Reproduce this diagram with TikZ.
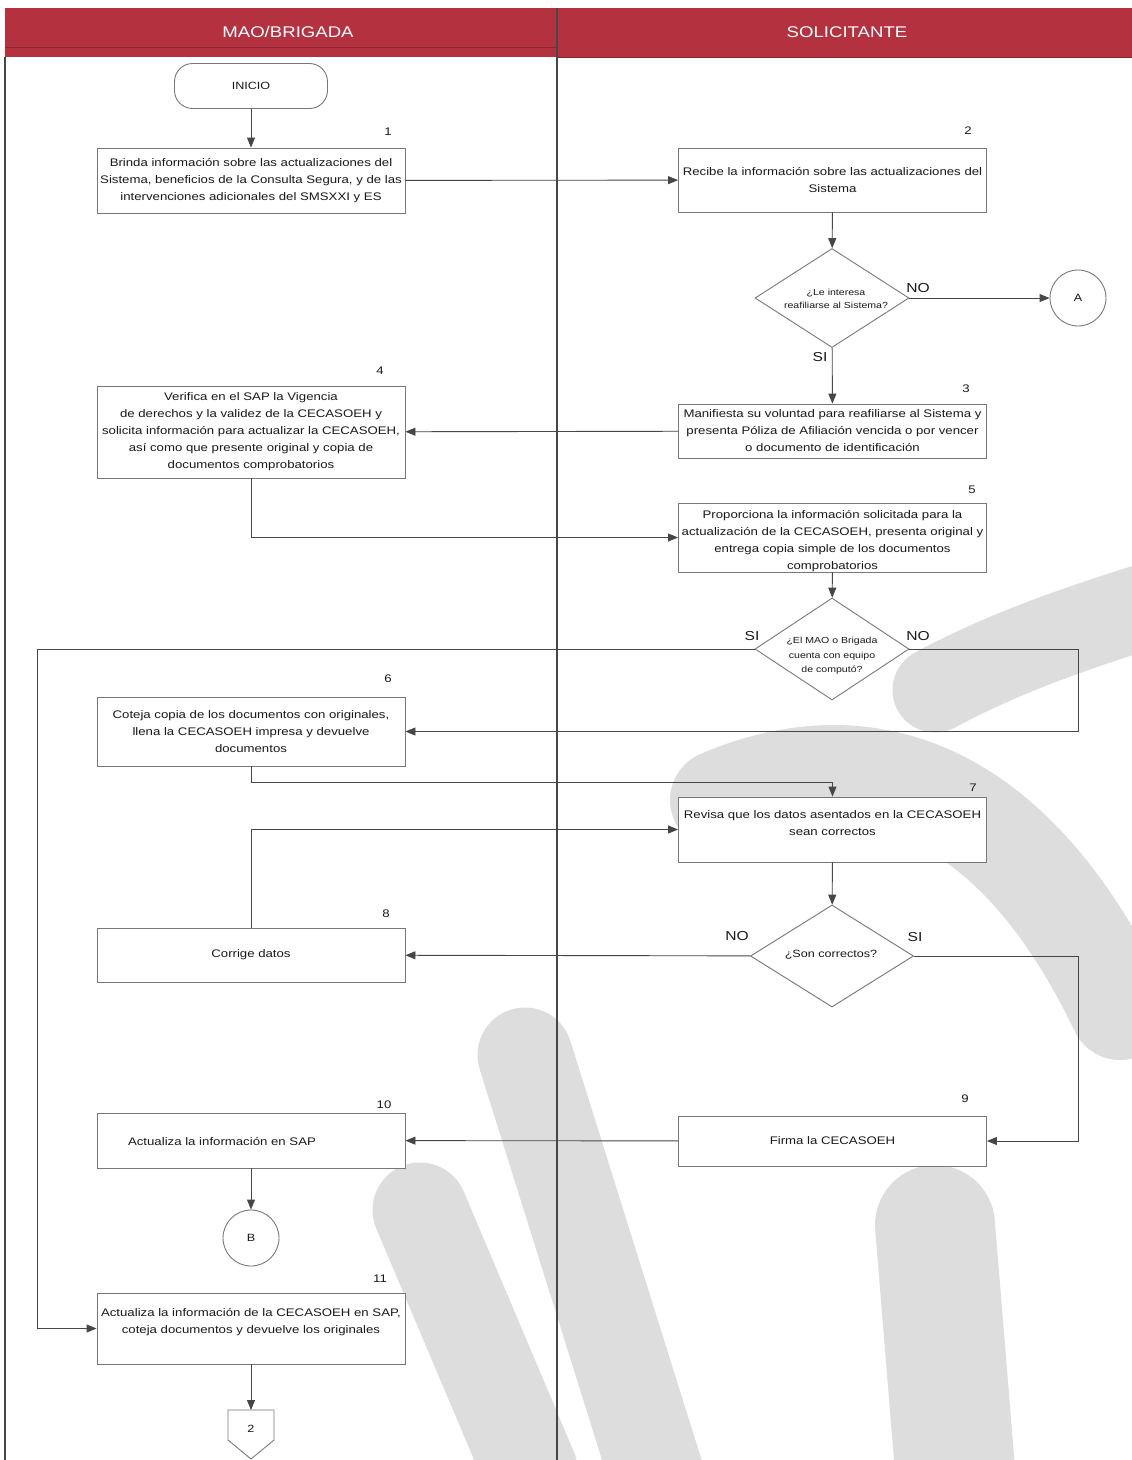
\documentclass[tikz,border=0pt]{standalone}
\usepackage{fontspec}
\setmainfont{Liberation Sans}[FakeStretch=1.2]
\usetikzlibrary{shapes.geometric,arrows.meta}
\definecolor{hdr}{RGB}{180,50,64}
\definecolor{hdrdark}{RGB}{140,35,45}
\definecolor{ln}{RGB}{70,70,70}
\definecolor{bx}{RGB}{120,120,120}
\definecolor{wm}{RGB}{221,221,221}
\definecolor{txt}{RGB}{25,25,25}

\begin{document}
\begin{tikzpicture}[x=1pt,y=-1pt,
  box/.style={draw=bx, fill=white, line width=0.9pt, minimum width=308pt,
    align=center, text=txt, font=\fontsize{11}{17}\selectfont, inner sep=0pt},
  boxtext/.style={align=center, text=txt, font=\fontsize{11}{17}\selectfont, inner sep=0pt},
  decision/.style={shape=diamond, draw=bx, fill=white, line width=0.9pt, inner sep=0pt},
  dtext/.style={align=center, text=txt, font=\fontsize{8.8}{14}\selectfont, inner sep=0pt},
  conn/.style={shape=circle, draw=bx, fill=white, line width=0.9pt, minimum size=56pt,
    inner sep=0pt, text=txt, font=\fontsize{10.5}{12}\selectfont},
  stepnum/.style={text=txt, font=\fontsize{11}{12}\selectfont, inner sep=0pt},
  answer/.style={text=txt, font=\fontsize{13}{14}\selectfont, inner sep=0pt},
  arr/.style={draw=ln, line width=0.9pt, -{Triangle[length=10pt,width=8pt]}},
  lane/.style={draw=ln, line width=1.3pt}
]
\useasboundingbox (0,0) rectangle (1132,1460);
\fill[white] (0,0) rectangle (1132,1460);

% --- light watermark figure in the background ---
\begin{scope}[wm, line cap=round, line join=round]
  \draw[line width=100pt] (720,800) .. controls (860,740) and (1010,780) .. (1120,1010);
  \draw[line width=85pt] (935,690) .. controls (1000,655) and (1070,630) .. (1150,605);
  \draw[line width=95pt] (420,1210) -- (530,1470);
  \draw[line width=95pt] (525,1055) -- (655,1470);
  \draw[line width=120pt] (935,1225) -- (955,1470);
\end{scope}

% --- header band and swimlanes ---
\fill[hdr] (5,8) rectangle (1132,57);
\draw[hdrdark, line width=0.8pt] (5,47) -- (557,47);
\draw[hdrdark, line width=0.8pt] (557,57) -- (1132,57);
\node[text=white, font=\fontsize{15.5}{17}\selectfont] (lane1) at (288,32) {MAO/BRIGADA};
\node[text=white, font=\fontsize{15.5}{17}\selectfont] (lane2) at (847,32) {SOLICITANTE};
\draw[lane] (5,57) -- (5,1460);
\draw[lane] (557,8) -- (557,1460);

% --- steps ---
\node[draw=bx, fill=white, line width=0.9pt, rounded corners=18pt, minimum width=153pt,
  minimum height=45pt, text=txt, font=\fontsize{10.5}{12}\selectfont] (inicio) at (251,86) {INICIO};

\node[box, minimum height=65pt] (b1) at (251,180.5)
  {Brinda información sobre las actualizaciones del\\Sistema, beneficios de la Consulta Segura, y de las\\intervenciones adicionales del SMSXXI y ES};
\node[stepnum] (n1) at (388,132) {1};

\node[box, minimum height=64pt] (b2) at (832.5,180)
  {Recibe la información sobre las actualizaciones del\\Sistema};
\node[stepnum] (n2) at (968,131) {2};

\node[decision, minimum width=154pt, minimum height=99pt] (d1) at (832,298) {};
\node[dtext, font=\fontsize{8.8}{13}\selectfont] (d1t) at (836,298.5) {¿Le interesa\\reafiliarse al Sistema?};
\node[conn] (A) at (1078,298) {A};

\node[box, minimum height=54pt] (b3) at (832.5,431)
  {Manifiesta su voluntad para reafiliarse al Sistema y\\presenta Póliza de Afiliación vencida o por vencer\\o documento de identificación};
\node[stepnum] (n3) at (966,389) {3};

\node[box, minimum height=92pt] (b4) at (251,432)
  {Verifica en el SAP la Vigencia\\de derechos y la validez de la CECASOEH y\\solicita información para actualizar la CECASOEH,\\así como que presente original y copia de\\documentos comprobatorios};
\node[stepnum] (n4) at (380,371) {4};

\node[box, minimum height=69pt] (b5) at (832.5,537.5) {};
\node[boxtext] (b5t) at (832.5,541)
  {Proporciona la información solicitada para la\\actualización de la CECASOEH, presenta original y\\entrega copia simple de los documentos\\comprobatorios};
\node[stepnum] (n5) at (972,490) {5};

\node[decision, minimum width=154pt, minimum height=102pt] (d2) at (832,649) {};
\node[dtext, font=\fontsize{8.8}{14.5}\selectfont] (d2t) at (832,656)
  {¿El MAO o Brigada\\cuenta con equipo\\de computó?};

\node[box, minimum height=69pt] (b6) at (251,731.5)
  {Coteja copia de los documentos con originales,\\llena la CECASOEH impresa y devuelve\\documentos};
\node[stepnum] (n6) at (388,679) {6};

\node[box, minimum height=65pt] (b7) at (832.5,829.5) {};
\node[boxtext] (b7t) at (832.5,823.5) {Revisa que los datos asentados en la CECASOEH\\sean correctos};
\node[stepnum] (n7) at (973,788) {7};

\node[box, minimum height=54pt] (b8) at (251,955) {Corrige datos};
\node[stepnum] (n8) at (386,914) {8};

\node[decision, minimum width=163pt, minimum height=102pt] (d3) at (832,956) {};
\node[dtext, font=\fontsize{10.5}{13}\selectfont] (d3t) at (831,955) {¿Son correctos?};

\node[box, minimum height=50pt] (b9) at (832.5,1141) {Firma la CECASOEH};
\node[stepnum] (n9) at (965,1099) {9};

\node[box, minimum height=55pt] (b10) at (251,1140.5) {};
\node[boxtext] (b10t) at (222,1141) {Actualiza la información en SAP};
\node[stepnum] (n10) at (384,1105) {10};

\node[conn] (B) at (251,1238) {B};

\node[box, minimum height=71pt] (b11) at (251,1328.5) {};
\node[boxtext] (b11t) at (251,1322.5)
  {Actualiza la información de la CECASOEH en SAP,\\coteja documentos y devuelve los originales};
\node[stepnum] (n11) at (380,1279) {11};

% off-page connector
\draw[draw=bx, fill=white, line width=0.9pt] (228,1410) -- (274,1410) -- (274,1440) -- (251,1459) -- (228,1440) -- cycle;
\node[text=txt, font=\fontsize{10.5}{12}\selectfont] (c2) at (251,1429) {2};
\coordinate (c2top) at (251,1410);

% routing guides
\coordinate (lx) at (37,0);
\coordinate (rx) at (1078,0);
\coordinate (j6) at (251,782);

% --- connectors ---
\draw[arr] (inicio) -- (b1);
\draw[arr] (b1) -- (b2);
\draw[arr] (b2) -- (d1);
\draw[arr] (d1) -- (A);
\node[answer] (no1) at (918,288) {NO};
\draw[arr] (d1) -- (b3);
\node[answer] (si1) at (820,357) {SI};
\draw[arr] (b3) -- (b4);
\draw[arr] (b4.south) |- (b5.west);
\draw[arr] (b5) -- (d2);
\draw[arr] (d2.west) -- (d2.west -| lx) |- (b11.west);
\node[answer] (si2) at (752,636) {SI};
\draw[arr] (d2.east) -- (d2.east -| rx) |- (b6.east);
\node[answer] (no2) at (918,636) {NO};
\draw[arr] (b6.south) -- (j6) -| (b7.north);
\draw[arr] (b8.north) |- (b7.west);
\draw[arr] (b7) -- (d3);
\draw[arr] (d3) -- (b8);
\node[answer] (no3) at (737,936) {NO};
\draw[arr] (d3.east) -- (d3.east -| rx) |- (b9.east);
\node[answer] (si3) at (915,937) {SI};
\draw[arr] (b9) -- (b10);
\draw[arr] (b10) -- (B);
\draw[arr] (b11) -- (c2top);
\end{tikzpicture}
\end{document}
